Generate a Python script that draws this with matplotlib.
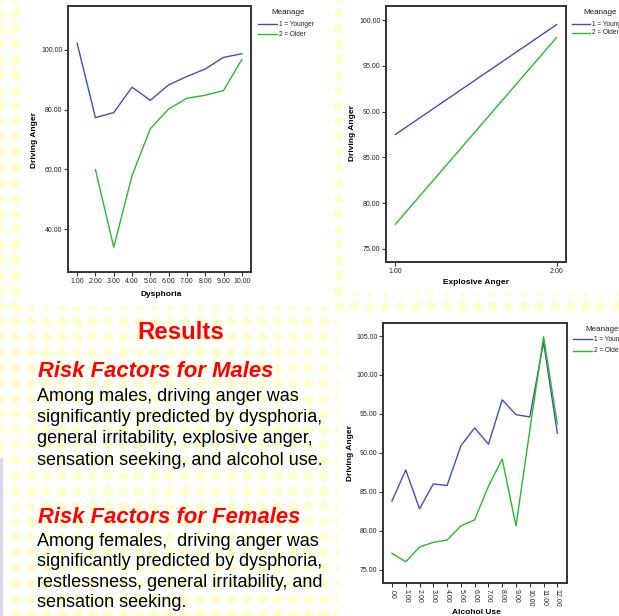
import numpy as np
import matplotlib
matplotlib.use("Agg")
import matplotlib.pyplot as plt
from matplotlib.patches import Rectangle
from matplotlib.lines import Line2D

plt.rcParams['font.family'] = ['Liberation Sans', 'DejaVu Sans']

# ---------------- data ----------------
group_labels = ["1 = Younger", "2 = Older"]
legend_title = "Meanage"
y_label = "Driving Anger"

dysphoria_x = [1, 2, 3, 4, 5, 6, 7, 8, 9, 10]
dysphoria_young = [102.2, 77.3, 79.0, 87.5, 83.1, 88.3, 91.1, 93.6, 97.5, 98.7]
dysphoria_old_x = [2, 3, 4, 5, 6, 7, 8, 9, 10]
dysphoria_old = [59.9, 33.9, 57.9, 73.6, 80.2, 83.8, 84.8, 86.4, 96.8]
dysphoria_yticks = [40, 60, 80, 100]

explosive_x = [1, 2]
explosive_young = [87.5, 99.5]
explosive_old = [77.7, 98.1]
explosive_yticks = [75, 80, 85, 90, 95, 100]

alcohol_x = list(range(13))
alcohol_young = [83.8, 87.8, 82.8, 86.0, 85.8, 90.9, 93.2, 91.1, 96.8, 94.9, 94.6, 104.2, 92.5]
alcohol_old = [77.1, 76.0, 77.9, 78.5, 78.8, 80.6, 81.4, 85.7, 89.2, 80.6, 92.9, 104.9, 93.7]
alcohol_yticks = [75, 80, 85, 90, 95, 100, 105]
alcohol_xticklabels = [".00", "1.00", "2.00", "3.00", "4.00", "5.00", "6.00",
                       "7.00", "8.00", "9.00", "10.00", "11.00", "12.00"]

title_text = "Results"
male_heading = "Risk Factors for Males"
male_lines = ["Among males, driving anger was",
              "significantly predicted by dysphoria,",
              "general irritability, explosive anger,",
              "sensation seeking, and alcohol use."]
female_heading = "Risk Factors for Females"
female_lines = ["Among females,  driving anger was",
                "significantly predicted by dysphoria,",
                "restlessness, general irritability, and",
                "sensation seeking."]

BLUE = "#3F51B5"
GREEN = "#2DB82D"
RED = "#FF0000"
FRAME = "#333333"

W, H = 619, 616
fig = plt.figure(figsize=(W / 100, H / 100), dpi=100)

# ---------------- background ----------------
bg = fig.add_axes([0, 0, 1, 1])
bg.set_xlim(0, W)
bg.set_ylim(H, 0)
bg.axis('off')
yy, xx = np.mgrid[0:H, 0:W] + 0.5
p = 15.4
u = np.mod((xx - 8) / p, 1.0) - 0.5
v = np.mod((yy - 6) / p, 1.0) - 0.5
dia = (np.abs(u) + np.abs(v)) < 0.40
img = np.ones((H, W, 3))
img[dia] = np.array([255, 255, 204]) / 255.0
bg.imshow(img, extent=(0, W, H, 0), interpolation='antialiased', aspect='auto', zorder=0)
# lavender edge stripe
bg.add_patch(Rectangle((0, 458), 2.5, H - 458, color="#D8D8F2", zorder=1, lw=0))
# white chart panels
for (x0, y0, x1, y1) in [(24, 0, 328, 307), (343, 0, W, 293), (338, 315, W, H)]:
    bg.add_patch(Rectangle((x0, y0), x1 - x0, y1 - y0, facecolor='white', lw=0, zorder=1))


def px_axes(left, top, right, bottom):
    return fig.add_axes([left / W, 1 - bottom / H, (right - left) / W, (bottom - top) / H])


def style(ax):
    for s in ax.spines.values():
        s.set_color(FRAME)
        s.set_linewidth(1.4)
    ax.tick_params(direction='out', length=3, width=0.8, labelsize=5, pad=1,
                   color=FRAME, labelcolor="#222222")
    ax.set_yticklabels([f"{t:.2f}" for t in ax.get_yticks()])


def legend(title_xc, title_y, line_x0, line_x1, ys):
    bg.text(title_xc, title_y, legend_title, fontsize=5.8, ha='center', va='center',
            color="#222222", zorder=3)
    for yv, col, lab in zip(ys, [BLUE, GREEN], group_labels):
        bg.add_line(Line2D([line_x0, line_x1], [yv, yv], color=col, lw=1.0, zorder=3))
        bg.text(line_x1 + 2, yv, lab, fontsize=4.7, ha='left', va='center',
                color="#222222", zorder=3)


# ---------------- chart 1: Dysphoria ----------------
ax1 = px_axes(68, 6, 251, 272)
ax1.plot(dysphoria_x, dysphoria_young, color=BLUE, lw=1.0)
ax1.plot(dysphoria_old_x, dysphoria_old, color=GREEN, lw=1.0)
ax1.set_xlim(0.5, 10.5)
ax1.set_ylim(25.6, 114.7)
ax1.set_xticks(dysphoria_x)
ax1.set_xticklabels([f"{t:.2f}" for t in dysphoria_x])
ax1.set_yticks(dysphoria_yticks)
style(ax1)
bg.text(35, 140, y_label, fontsize=6, fontweight='bold', rotation=90, ha='center', va='center', zorder=3)
bg.text(161, 294, "Dysphoria", fontsize=6, fontweight='bold', ha='center', va='center', zorder=3)
legend(288.5, 13, 258, 277, [24, 34])

# ---------------- chart 2: Explosive Anger ----------------
ax2 = px_axes(386, 6, 566, 262)
ax2.plot(explosive_x, explosive_young, color=BLUE, lw=1.0)
ax2.plot(explosive_x, explosive_old, color=GREEN, lw=1.0)
ax2.set_xlim(0.942, 2.058)
ax2.set_ylim(73.58, 101.53)
ax2.set_xticks(explosive_x)
ax2.set_xticklabels([f"{t:.2f}" for t in explosive_x])
ax2.set_yticks(explosive_yticks)
style(ax2)
bg.text(353, 133, y_label, fontsize=6, fontweight='bold', rotation=90, ha='center', va='center', zorder=3)
bg.text(476, 282, "Explosive Anger", fontsize=6, fontweight='bold', ha='center', va='center', zorder=3)
legend(600, 13, 572, 590, [24, 33])

# ---------------- chart 3: Alcohol Use ----------------
ax3 = px_axes(383, 323, 567, 583)
ax3.plot(alcohol_x, alcohol_young, color=BLUE, lw=1.0)
ax3.plot(alcohol_x, alcohol_old, color=GREEN, lw=1.0)
ax3.set_xlim(-0.65, 12.7)
ax3.set_ylim(73.28, 106.67)
ax3.set_xticks(alcohol_x)
ax3.set_yticks(alcohol_yticks)
style(ax3)
ax3.set_xticklabels(alcohol_xticklabels, rotation=-90, va='top', ha='center')
bg.text(351, 453, y_label, fontsize=6, fontweight='bold', rotation=90, ha='center', va='center', zorder=3)
bg.text(476, 612, "Alcohol Use", fontsize=6, fontweight='bold', ha='center', va='center', zorder=3)
legend(602, 329.3, 573, 592, [339.3, 350.7])

# ---------------- text block ----------------
bg.text(180.5, 339.3, title_text, fontsize=17.3, fontweight='bold', color=RED,
        ha='center', va='baseline', zorder=3)
bg.text(38, 377.3, male_heading, fontsize=15.8, fontweight='bold', fontstyle='italic',
        color=RED, ha='left', va='baseline', zorder=3)
for yb, line in zip([400.7, 421.9, 443.3, 464.8], male_lines):
    bg.text(37, yb, line, fontsize=13.0, color='black', ha='left', va='baseline', zorder=3)
bg.text(38, 522.7, female_heading, fontsize=15.8, fontweight='bold', fontstyle='italic',
        color=RED, ha='left', va='baseline', zorder=3)
for yb, line in zip([546.0, 566.5, 586.7, 606.7], female_lines):
    bg.text(37, yb, line, fontsize=13.0, color='black', ha='left', va='baseline', zorder=3)

fig.savefig("out.png", dpi=100)
